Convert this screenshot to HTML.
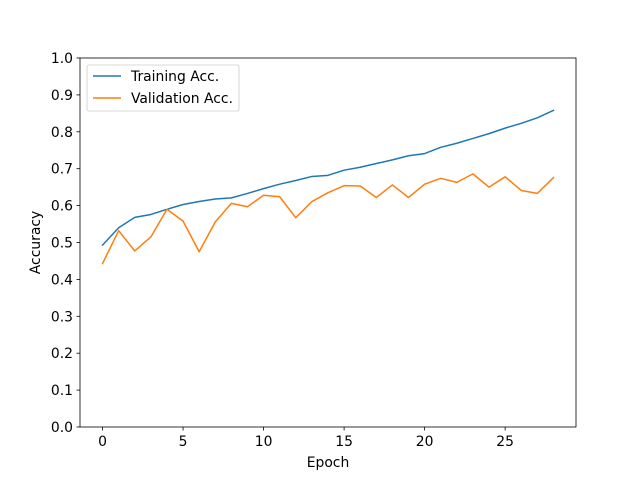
<!DOCTYPE html>
<html><head><meta charset="utf-8"><style>
body{margin:0;background:#fff}
svg text{font-family:"DejaVu Sans","Liberation Sans",sans-serif;font-size:13.9px;fill:#000}
</style></head><body>
<svg id="c" width="640" height="480">
<rect x="0" y="0" width="640" height="480" fill="#fff"/>
<g id="plot"></g>
</svg>
<script>
const epochs=[0,1,2,3,4,5,6,7,8,9,10,11,12,13,14,15,16,17,18,19,20,21,22,23,24,25,26,27,28];
const trainAcc=[0.493,0.54,0.568,0.576,0.59,0.603,0.611,0.618,0.621,0.633,0.646,0.658,0.668,0.679,0.682,0.696,0.704,0.714,0.724,0.735,0.741,0.758,0.769,0.782,0.795,0.81,0.823,0.838,0.858];
const valAcc=[0.443,0.532,0.477,0.515,0.59,0.558,0.475,0.556,0.606,0.597,0.628,0.624,0.567,0.611,0.635,0.654,0.653,0.622,0.656,0.622,0.658,0.674,0.663,0.686,0.65,0.678,0.641,0.633,0.676];
const xTicks=[0,5,10,15,20,25];
const yTicks=[0,0.1,0.2,0.3,0.4,0.5,0.6,0.7,0.8,0.9,1.0];
const L=80,R=576,T=58,B=427,xmin=-1.4,xmax=29.4;
const X=v=>L+(v-xmin)/(xmax-xmin)*(R-L);
const Y=v=>B-v*(B-T);
const NS='http://www.w3.org/2000/svg';
const g=document.getElementById('plot');
function mk(t,a,txt){const e=document.createElementNS(NS,t);for(const k in a)e.setAttribute(k,a[k]);if(txt!==undefined)e.textContent=txt;g.appendChild(e);return e;}
xTicks.forEach(v=>{
 const l=mk('line',{x1:X(v),x2:X(v),y1:B,y2:B+3.5,stroke:'#000','stroke-width':0.8});
 
 
 const t=mk('text',{x:X(v),y:B+19,'text-anchor':'middle'},String(v));
 
 
});
yTicks.forEach(v=>{
 const l=mk('line',{x1:L-3.5,x2:L,y1:Y(v),y2:Y(v),stroke:'#000','stroke-width':0.8});
 
 
 const t=mk('text',{x:L-7,y:Y(v)+5,'text-anchor':'end'},v.toFixed(1));
 
 
});
function line(vals,color,name){
 const p=mk('polyline',{points:vals.map((v,i)=>X(epochs[i])+','+Y(v)).join(' '),fill:'none',stroke:color,'stroke-width':1.5,'stroke-linejoin':'round','stroke-linecap':'square'});
 
 
}
line(trainAcc,'#1f77b4','training-acc-line');
line(valAcc,'#ff7f0e','validation-acc-line');
const f=mk('rect',{x:L,y:T,width:R-L,height:B-T,fill:'none',stroke:'#000','stroke-width':0.8});


const xt=mk('text',{x:(L+R)/2,y:467,'text-anchor':'middle'},'Epoch');


const yt=mk('text',{x:0,y:0,'text-anchor':'middle',transform:`translate(40,${(T+B)/2}) rotate(-90)`},'Accuracy');


const lg=mk('rect',{x:87,y:65,width:152,height:46,rx:2,fill:'#fff','fill-opacity':0.8,stroke:'#ccc','stroke-width':0.8});


[['Training Acc.','#1f77b4',76],['Validation Acc.','#ff7f0e',98]].forEach(([n,c,y],i)=>{
 const l=mk('line',{x1:93,x2:121,y1:y,y2:y,stroke:c,'stroke-width':1.5});
 
 
 const t=mk('text',{x:131,y:y+5},n);
 
 
});
</script>
</body></html>
